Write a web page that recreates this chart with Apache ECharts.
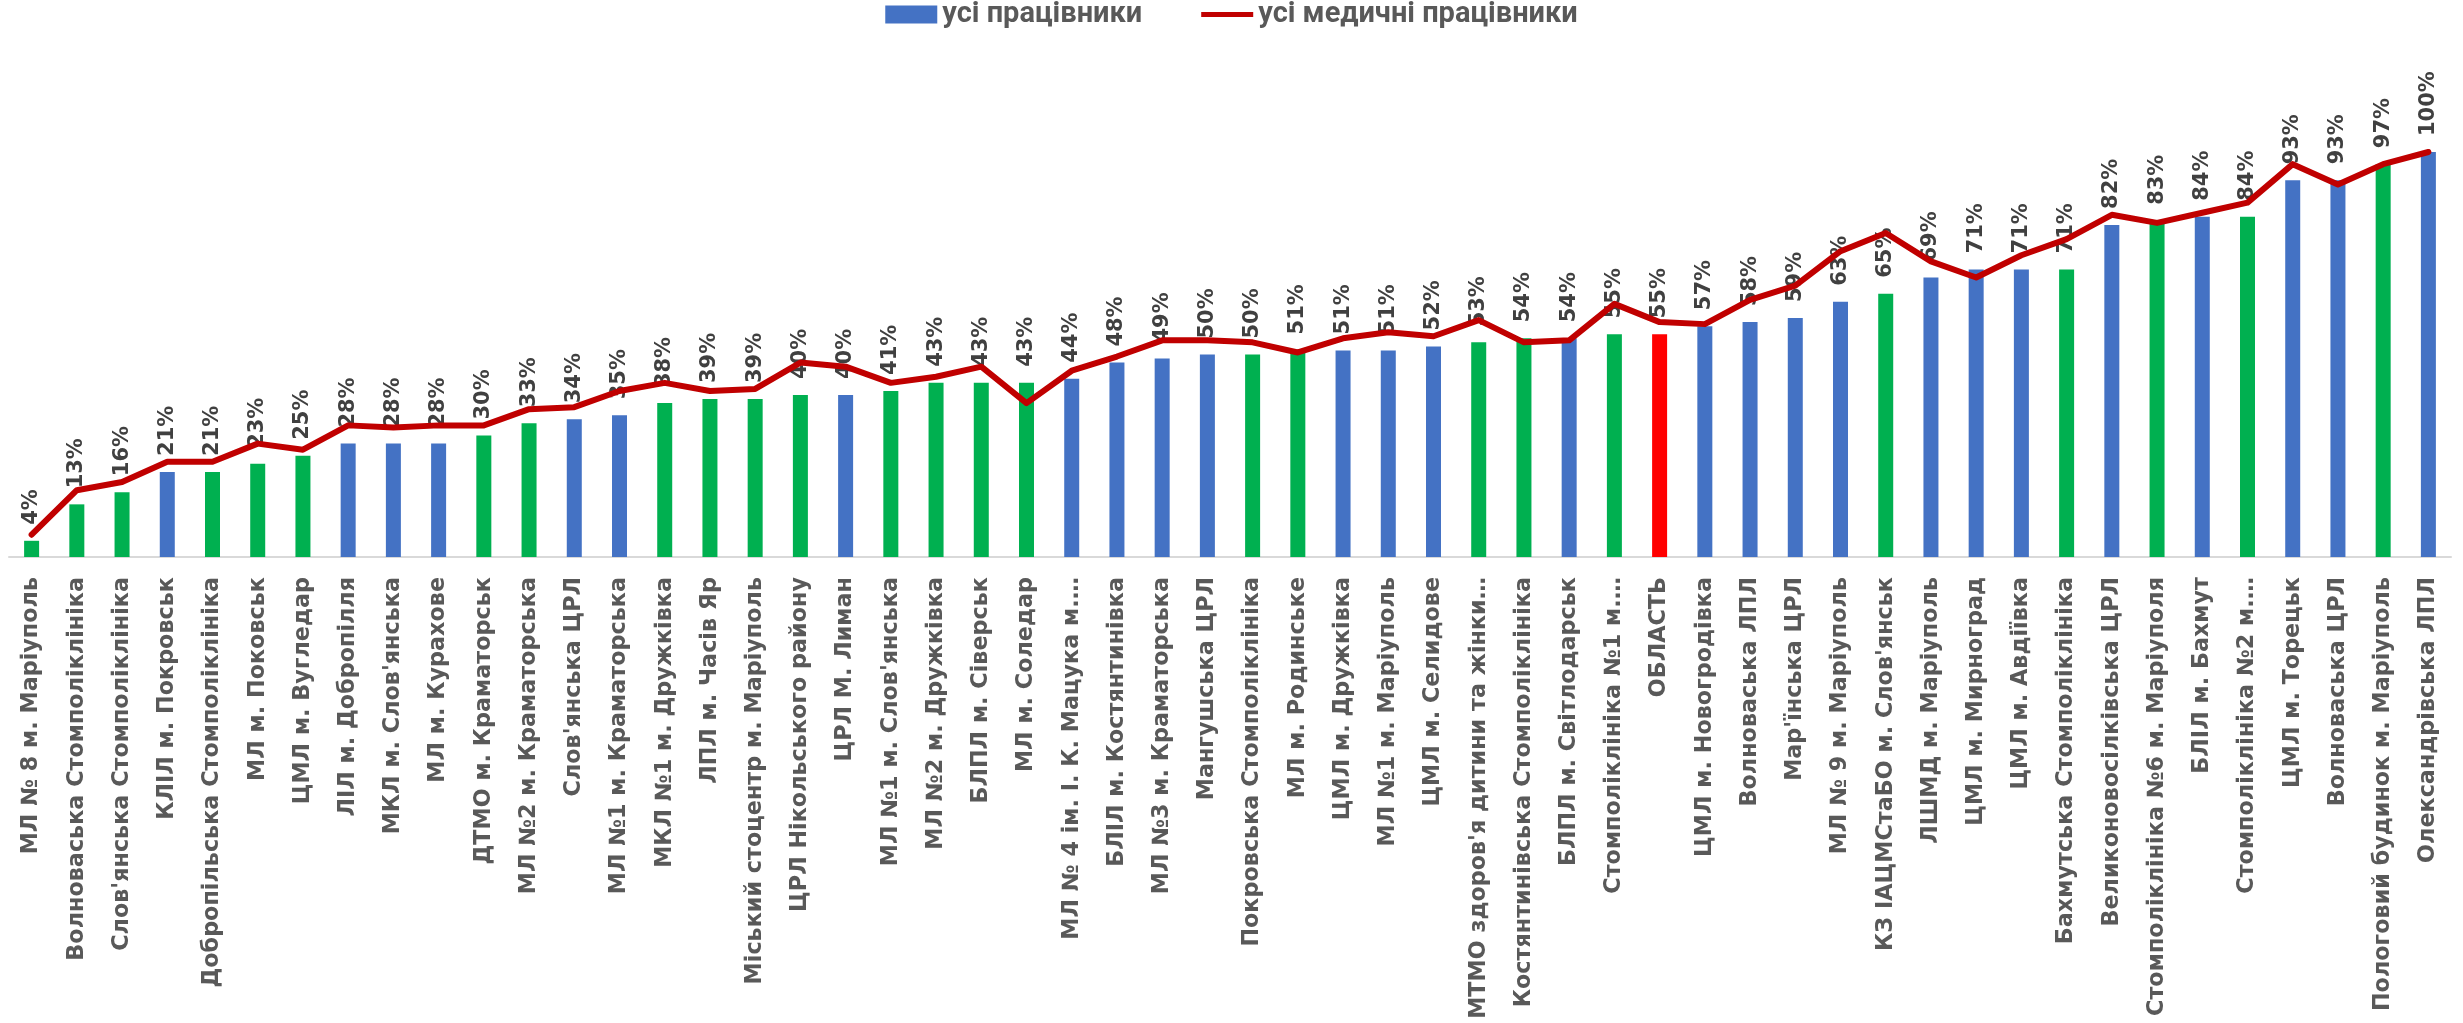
<!DOCTYPE html>
<html><head><meta charset="utf-8">
<script src="https://cdn.jsdelivr.net/npm/echarts@6/dist/echarts.min.js"></script>
<style>html,body{margin:0;padding:0;background:#fff}#c{width:2463px;height:1023px}</style>
</head><body><div id="c"></div>
<script>
const categories = [
  "МЛ № 8 м. Маріуполь","Волноваська Стомполіклініка","Слов'янська Стомполіклініка","КЛІЛ м. Покровськ",
  "Добропільська Стомполіклініка","МЛ м. Поковськ","ЦМЛ м. Вугледар","ЛІЛ м. Добропілля","МКЛ м. Слов'янська",
  "МЛ м. Курахове","ДТМО м. Краматорськ","МЛ №2 м. Краматорська","Слов'янська ЦРЛ","МЛ №1 м. Краматорська",
  "МКЛ №1 м. Дружківка","ЛПЛ м. Часів Яр","Міський стоцентр м. Маріуполь","ЦРЛ Нікольського району",
  "ЦРЛ М. Лиман","МЛ №1 м. Слов'янська","МЛ №2 м. Дружківка","БЛПЛ м. Сіверськ","МЛ м. Соледар",
  "МЛ № 4 ім. І. К. Мацука м.…","БЛІЛ м. Костянтинівка","МЛ №3 м. Краматорська","Мангушська ЦРЛ",
  "Покровська Стомполіклініка","МЛ м. Родинське","ЦМЛ м. Дружківка","МЛ №1 м. Маріуполь","ЦМЛ м. Селидове",
  "МТМО здоров'я дитини та жінки…","Костянтинівська Стомполіклініка","БЛПЛ м. Світлодарськ","Стомполіклініка №1 м.…",
  "ОБЛАСТЬ","ЦМЛ м. Новогродівка","Волноваська ЛПЛ","Мар'їнська ЦРЛ","МЛ № 9 м. Маріуполь",
  "КЗ ІАЦМСтаБО м. Слов'янськ","ЛШМД м. Маріуполь","ЦМЛ м. Мирноград","ЦМЛ м. Авдіївка",
  "Бахмутська Стомполіклініка","Великоновосілківська ЦРЛ","Стомполіклініка №6 м. Маріуполя","БЛІЛ м. Бахмут",
  "Стомполіклініка №2 м.…","ЦМЛ м. Торецьк","Волноваська ЦРЛ","Пологовий будинок м. Маріуполь","Олександрівська ЛПЛ"
];
const allWorkers = [4,13,16,21,21,23,25,28,28,28,30,33,34,35,38,39,39,40,40,41,43,43,43,44,48,49,50,50,51,51,51,52,53,54,54,55,55,57,58,59,63,65,69,71,71,71,82,83,84,84,93,93,97,100];
const medWorkers = [5.5,16.5,18.5,23.5,23.5,28,26.5,32.5,32,32.5,32.5,36.5,37,41,43,41,41.5,48,47,43,44.5,47,38,46,49.5,53.5,53.5,53,50.5,54,55.5,54.5,58.5,53,53.5,62.5,58,57.5,63.5,67,75.5,80,73,69,74.5,78.5,84.5,82.5,85,87.5,97,92,97,100];
// group of each institution: g / b / r (region total)
const groups = ['g','g','g','b','g','g','g','b','b','b','g','g','b','b','g','g','g','g','b','g','g','g','g','b','b','b','b','g','g','b','b','b','g','g','b','g','r','b','b','b','b','g','b','b','b','g','b','g','b','g','b','b','g','b'];
const seriesNames = ['усі працівники','усі медичні працівники'];

const groupColor = {g:'#00B050', b:'#4472C4', r:'#FF0000'};
const chart = echarts.init(document.getElementById('c'), null, {renderer:'canvas'});
chart.setOption({
  animation:false,
  backgroundColor:'#fff',
  legend:{
    top:0, left:'center', padding:0,
    itemWidth:52, itemHeight:18, itemGap:59, symbolKeepAspect:true,
    textStyle:{fontSize:29, fontWeight:'bold', color:'#595959', fontFamily:'Roboto, "Liberation Sans", sans-serif'},
    data:[{name:seriesNames[0], icon:'rect'}, {name:seriesNames[1], icon:'path://M0,0L52,0L52,5L0,5Z'}]
  },
  grid:{left:9, right:12, top:152, bottom:466, containLabel:false},
  xAxis:{
    type:'category', data:categories, boundaryGap:true,
    axisLine:{lineStyle:{color:'#D9D9D9', width:2}},
    axisTick:{show:false},
    axisLabel:{interval:0, rotate:90, margin:20, fontSize:22.3, fontWeight:'bold', color:'#595959', fontFamily:'DejaVu Sans'}
  },
  yAxis:{type:'value', min:0, max:100, show:false, splitLine:{show:false}},
  series:[
    {
      name:seriesNames[0], type:'bar', barWidth:15, z:2,
      itemStyle:{color:'#4472C4'},
      data: allWorkers.map((v,i)=>({value:v, itemStyle:{color:groupColor[groups[i]]}})),
      label:{show:true, position:'top', distance:16, rotate:90, align:'left', verticalAlign:'middle',
        formatter:'{c}%', fontSize:21, fontWeight:'bold', color:'#404040', fontFamily:'DejaVu Sans'}
    },
    {
      name:seriesNames[1], type:'line', data:medWorkers, z:3, symbol:'none', smooth:false,
      itemStyle:{color:'#C00000'},
      lineStyle:{color:'#C00000', width:6, cap:'round', join:'round'}
    }
  ]
});
</script></body></html>
